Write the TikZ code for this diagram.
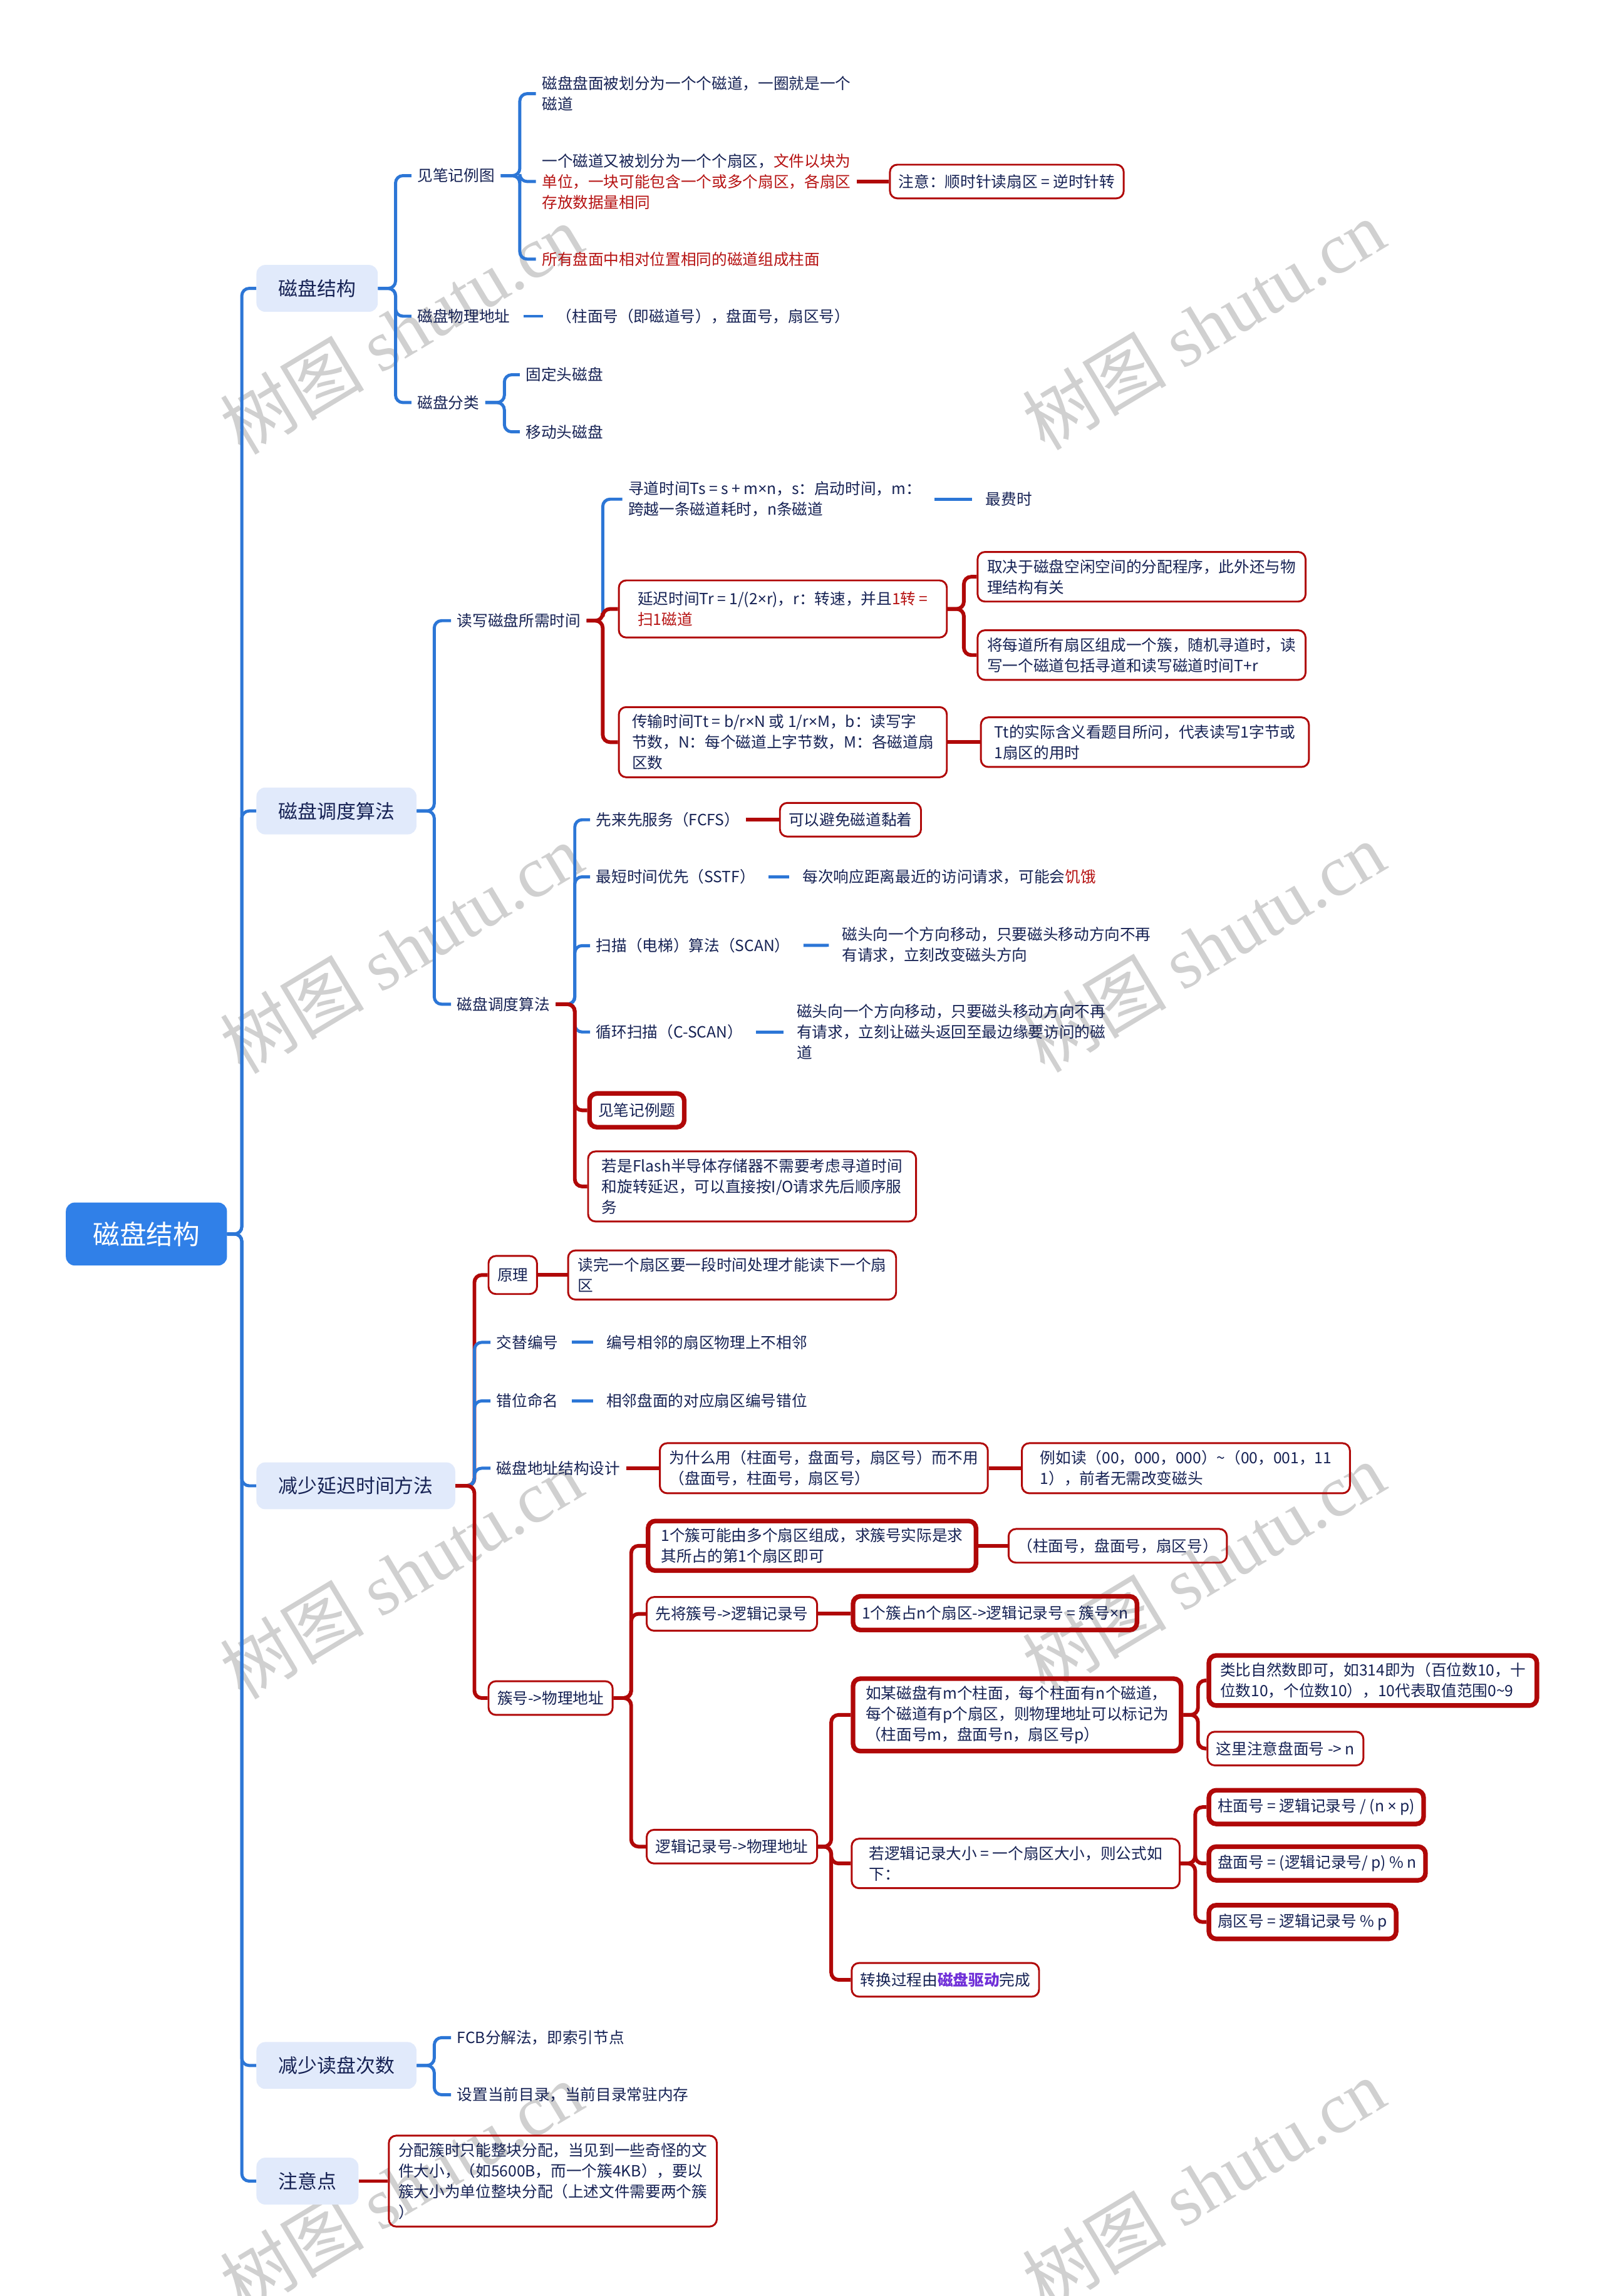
\documentclass[tikz,border=0pt]{standalone}
\usepackage{fontspec}
\setmainfont{Noto Sans CJK SC}
\newfontfamily\wmlatin{Liberation Serif}
\newfontfamily\narrowlatin{Noto Sans}
\usepackage{xcolor}
\usepackage{tikz}
\usetikzlibrary{positioning}

\definecolor{ink}{RGB}{22,34,84}
\definecolor{hotred}{RGB}{182,18,18}
\definecolor{lineblue}{RGB}{44,118,214}
\definecolor{linered}{RGB}{176,8,8}
\definecolor{topicbg}{RGB}{225,234,251}
\definecolor{rootblue}{RGB}{48,128,232}
\definecolor{drvpurple}{RGB}{112,48,216}
\definecolor{wmgray}{RGB}{208,208,208}

\newcommand{\bodyfont}{\fontsize{15pt}{20pt}\selectfont}
\newcommand{\topicfont}{\fontsize{18.8pt}{23pt}\selectfont}
\newcommand{\rootfont}{\fontsize{26pt}{30pt}\selectfont}
\newcommand{\wmfont}{\fontsize{70pt}{70pt}\selectfont}
\newcommand{\redtxt}[1]{\textcolor{hotred}{#1}}
\newcommand{\tms}{{\narrowlatin ×}}

\begin{document}
\begin{tikzpicture}[x=0.05cm, y=-0.05cm]
    % Styles
    \tikzstyle{rootnode} = [rectangle, rounded corners=0.3cm, fill=rootblue, text=white,
                            minimum width=5.5cm, minimum height=2.15cm, font=\rootfont]
    \tikzstyle{topic} = [rectangle, rounded corners=0.3cm, fill=topicbg, text=ink, anchor=west,
                         inner xsep=0.75cm, minimum height=1.6cm, font=\topicfont]
    \tikzstyle{plain} = [anchor=west, align=left, text=ink, inner xsep=0.2cm, inner ysep=0.1cm, font=\bodyfont]
    \tikzstyle{box} = [plain, rectangle, rounded corners=0.25cm, draw=linered, line width=1.8pt,
                       inner xsep=0.3cm, inner ysep=0.25cm, minimum height=1.15cm]
    \tikzstyle{boldbox} = [box, line width=4.5pt]
    \tikzstyle{wide} = [minimum width=11.2cm]
    \tikzstyle{blueline} = [draw=lineblue, line width=3pt, rounded corners=0.25cm]
    \tikzstyle{redline} = [draw=linered, line width=3.6pt, rounded corners=0.25cm]
    \tikzstyle{gapline} = [shorten <=0.25cm, shorten >=0.25cm]
    \tikzstyle{watermark} = [text=wmgray, rotate=31, font=\wmfont]

    \fill[white] (0,0) rectangle (1095,1568.5);
    \useasboundingbox (0,0) rectangle (1095,1568.5);

    % Watermarks (behind everything)
    \node (wm1) [watermark] at (274,225) {树图 {\wmlatin shutu.cn}};
    \node (wm2) [watermark] at (822,222) {树图 {\wmlatin shutu.cn}};
    \node (wm3) [watermark] at (274,648) {树图 {\wmlatin shutu.cn}};
    \node (wm4) [watermark] at (822,647) {树图 {\wmlatin shutu.cn}};
    \node (wm5) [watermark] at (274,1075) {树图 {\wmlatin shutu.cn}};
    \node (wm6) [watermark] at (822,1071) {树图 {\wmlatin shutu.cn}};
    \node (wm7) [watermark] at (274,1494) {树图 {\wmlatin shutu.cn}};
    \node (wm8) [watermark] at (822,1492) {树图 {\wmlatin shutu.cn}};

    % Root and main topics
    \node (root) [rootnode] at (100,843) {磁盘结构};
    \node (t1) [topic] at (175,197) {磁盘结构};
    \node (t2) [topic] at (175,554) {磁盘调度算法};
    \node (t3) [topic] at (175,1015) {减少延迟时间方法};
    \node (t4) [topic] at (175,1411) {减少读盘次数};
    \node (t5) [topic] at (175,1490) {注意点};

    % Branch: disk structure
    \node (n11) [plain] at (281,120) {见笔记例图};
    \node (n12) [plain] at (281,216) {磁盘物理地址};
    \node (n13) [plain] at (281,275) {磁盘分类};
    \node (n111) [plain] at (366,64) {磁盘盘面被划分为一个个磁道，一圈就是一个\\磁道};
    \node (n112) [plain] at (366,124) {一个磁道又被划分为一个个扇区，\redtxt{文件以块为}\\\redtxt{单位，一块可能包含一个或多个扇区，各扇区}\\\redtxt{存放数据量相同}};
    \node (n113) [plain] at (366,177) {\redtxt{所有盘面中相对位置相同的磁道组成柱面}};
    \node (n1121) [box, right=1.1cm of n112] {注意：顺时针读扇区 = 逆时针转};
    \node (n121) [plain] at (376,216) {（柱面号（即磁道号），盘面号，扇区号）};
    \node (n131) [plain] at (355,256) {固定头磁盘};
    \node (n132) [plain] at (355,295) {移动头磁盘};

    % Branch: scheduling
    \node (n21) [plain] at (308,424) {读写磁盘所需时间};
    \node (n22) [plain] at (308,686) {磁盘调度算法};
    \node (n211) [plain] at (425,341) {寻道时间Ts = s + m\tms n，s：启动时间，m：\\跨越一条磁道耗时，n条磁道};
    \node (n2111) [plain] at (669,341) {最费时};
    \node (n212) [box, wide, minimum height=1.95cm] at (422,416) {延迟时间Tr = 1/(2\tms r)，r：转速，并且\redtxt{1转 =}\\\redtxt{扫1磁道}};
    \node (n213) [box, wide] at (422,507) {传输时间Tt = b/r\tms N 或 1/r\tms M，b：读写字\\节数，N：每个磁道上字节数，M：各磁道扇\\区数};
    \node (n2121) [box, wide] at (667,394) {取决于磁盘空闲空间的分配程序，此外还与物\\理结构有关};
    \node (n2122) [box, wide] at (667,447.5) {将每道所有扇区组成一个簇，随机寻道时，读\\写一个磁道包括寻道和读写磁道时间T+r};
    \node (n2131) [box, wide, right=1.1cm of n213] {Tt的实际含义看题目所问，代表读写1字节或\\1扇区的用时};
    \node (n221) [plain] at (403,560) {先来先服务（FCFS）};
    \node (n2211) [box] at (532,560) {可以避免磁道黏着};
    \node (n222) [plain] at (403,599) {最短时间优先（SSTF）};
    \node (n2221) [plain] at (544,599) {每次响应距离最近的访问请求，可能会\redtxt{饥饿}};
    \node (n223) [plain] at (403,646) {扫描（电梯）算法（SCAN）};
    \node (n2231) [plain] at (571,645.5) {磁头向一个方向移动，只要磁头移动方向不再\\有请求，立刻改变磁头方向};
    \node (n224) [plain] at (403,705) {循环扫描（C-SCAN）};
    \node (n2241) [plain] at (540,705) {磁头向一个方向移动，只要磁头移动方向不再\\有请求，立刻让磁头返回至最边缘要访问的磁\\道};
    \node (n225) [boldbox] at (401,758.5) {见笔记例题};
    \node (n226) [box, wide] at (401,810.5) {若是Flash半导体存储器不需要考虑寻道时间\\和旋转延迟，可以直接按I/O请求先后顺序服\\务};

    % Branch: reducing latency
    \node (n31) [box, minimum height=1.3cm] at (333,871) {原理};
    \node (n311) [box, wide, right=1cm of n31] {读完一个扇区要一段时间处理才能读下一个扇\\区};
    \node (n32) [plain] at (335,917) {交替编号};
    \node (n321) [plain] at (410,917) {编号相邻的扇区物理上不相邻};
    \node (n33) [plain] at (335,957) {错位命名};
    \node (n331) [plain] at (410,957) {相邻盘面的对应扇区编号错位};
    \node (n34) [plain] at (335,1003) {磁盘地址结构设计};
    \node (n341) [box, wide] at (450,1003) {为什么用（柱面号，盘面号，扇区号）而不用\\（盘面号，柱面号，扇区号）};
    \node (n342) [box, wide, right=1.1cm of n341] {例如读（00，000，000）\textasciitilde（00，001，11\\1），前者无需改变磁头};
    \node (n35) [box] at (333,1160) {簇号->物理地址};
    \node (n351) [boldbox, wide] at (441,1056) {1个簇可能由多个扇区组成，求簇号实际是求\\其所占的第1个扇区即可};
    \node (n3511) [box, right=1cm of n351] {（柱面号，盘面号，扇区号）};
    \node (n352) [box] at (441,1102.5) {先将簇号->逻辑记录号};
    \node (n3521) [boldbox] at (581,1102) {1个簇占n个扇区->逻辑记录号 = 簇号\tms n};
    \node (n353) [box] at (441,1261.5) {逻辑记录号->物理地址};
    \node (n3531) [boldbox, wide] at (581,1171.5) {如某磁盘有m个柱面，每个柱面有n个磁道，\\每个磁道有p个扇区，则物理地址可以标记为\\（柱面号m，盘面号n，扇区号p）};
    \node (n35311) [boldbox, wide] at (824,1148) {类比自然数即可，如314即为（百位数10，十\\位数10，个位数10），10代表取值范围0\textasciitilde9};
    \node (n35312) [box] at (824,1194.5) {这里注意盘面号 -> n};
    \node (n3532) [box, wide] at (581,1273) {若逻辑记录大小 = 一个扇区大小，则公式如\\下：};
    \node (n35321) [boldbox] at (824,1234.5) {柱面号 = 逻辑记录号 / (n \tms{} p)};
    \node (n35322) [boldbox] at (824,1273) {盘面号 = (逻辑记录号/ p) \% n};
    \node (n35323) [boldbox] at (824,1313) {扇区号 = 逻辑记录号 \% p};
    \node (n3533) [box] at (581,1352.5) {转换过程由\textcolor{drvpurple}{\bfseries 磁盘驱动}完成};

    % Branch: fewer reads
    \node (n41) [plain] at (308,1392) {FCB分解法，即索引节点};
    \node (n42) [plain] at (308,1431) {设置当前目录，当前目录常驻内存};

    % Branch: notes
    \node (n51) [box, wide, right=1cm of t5] {分配簇时只能整块分配，当见到一些奇怪的文\\件大小，（如5600B，而一个簇4KB），要以\\簇大小为单位整块分配（上述文件需要两个簇\\）};

    % Connectors
    \foreach \t in {t1,t2,t3,t4,t5}
        \draw [blueline] (root.east) -- ++(10,0) |- (\t.west);

    \foreach \c in {n11,n12,n13}
        \draw [blueline] (t1.east) -- ++(12,0) |- (\c.west);
    \foreach \c in {n111,n112,n113}
        \draw [blueline] (n11.east) -- ++(13,0) |- (\c.west);
    \draw [redline] (n112) -- (n1121);
    \draw [blueline, gapline] (n12) -- (n121);
    \foreach \c in {n131,n132}
        \draw [blueline] (n13.east) -- ++(13,0) |- (\c.west);

    \foreach \c in {n21,n22}
        \draw [blueline] (t2.east) -- ++(12,0) |- (\c.west);
    \draw [blueline] (n21.east) -- ++(11,0) |- (n211.west);
    \draw [redline] (n21.east) -- ++(11,0) |- (n212.west);
    \draw [redline] (n21.east) -- ++(11,0) |- (n213.west);
    \draw [blueline, gapline] (n211) -- (n2111);
    \foreach \c in {n2121,n2122}
        \draw [redline] (n212.east) -- ++(11,0) |- (\c.west);
    \draw [redline] (n213) -- (n2131);
    \foreach \c in {n221,n222,n223,n224}
        \draw [blueline] (n22.east) -- ++(13,0) |- (\c.west);
    \foreach \c in {n225,n226}
        \draw [redline] (n22.east) -- ++(13,0) |- (\c.west);
    \draw [redline] (n221) -- (n2211);
    \draw [blueline, gapline] (n222) -- (n2221);
    \draw [blueline, gapline] (n223) -- (n2231);
    \draw [blueline, gapline] (n224) -- (n2241);

    \draw [redline] (t3.east) -- ++(13,0) |- (n31.west);
    \foreach \c in {n32,n33,n34}
        \draw [blueline] (t3.east) -- ++(13,0) |- (\c.west);
    \draw [redline] (t3.east) -- ++(13,0) |- (n35.west);
    \draw [redline] (n31) -- (n311);
    \draw [blueline, gapline] (n32) -- (n321);
    \draw [blueline, gapline] (n33) -- (n331);
    \draw [redline] (n34) -- (n341);
    \draw [redline] (n341) -- (n342);
    \foreach \c in {n351,n352,n353}
        \draw [redline] (n35.east) -- ++(12,0) |- (\c.west);
    \draw [redline] (n351) -- (n3511);
    \draw [redline] (n352) -- (n3521);
    \foreach \c in {n3531,n3532,n3533}
        \draw [redline] (n353.east) -- ++(9,0) |- (\c.west);
    \foreach \c in {n35311,n35312}
        \draw [redline] (n3531.east) -- ++(10,0) |- (\c.west);
    \foreach \c in {n35321,n35322,n35323}
        \draw [redline] (n3532.east) -- ++(10,0) |- (\c.west);

    \foreach \c in {n41,n42}
        \draw [blueline] (t4.east) -- ++(12,0) |- (\c.west);
    \draw [redline] (t5) -- (n51);

\end{tikzpicture}
\end{document}
